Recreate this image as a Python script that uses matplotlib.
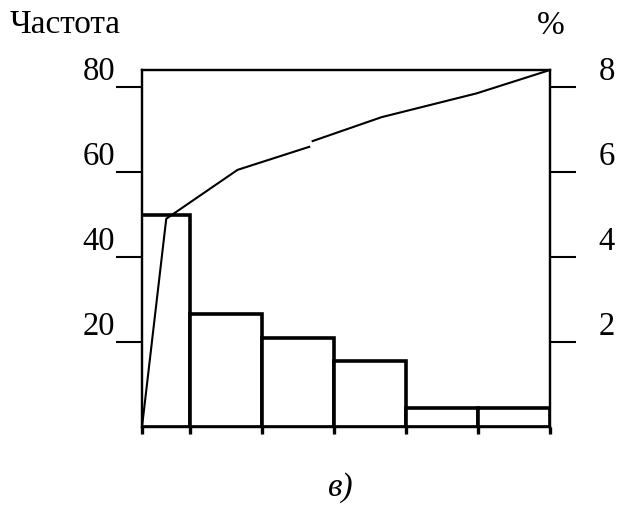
import matplotlib
matplotlib.use("Agg")
import matplotlib.pyplot as plt

# ---- data ----
categories = [1, 2, 3, 4, 5, 6]
frequency = [50, 26.5, 21, 15.5, 4.5, 4.5]
cum_x1 = [0.8333, 1.17, 2.16, 3.17]
cum_pct1 = [0.0, 4.9, 6.05, 6.6]
cum_x2 = [3.19, 4.16, 5.48, 6.5]
cum_pct2 = [6.72, 7.29, 7.85, 8.4]
left_ticks = [20, 40, 60, 80]
right_ticks = [2, 4, 6, 8]

plt.rcParams['font.family'] = ['Liberation Serif', 'DejaVu Serif']

W, H = 618, 509
fig = plt.figure(figsize=(W / 100, H / 100), dpi=100)
ax = fig.add_axes([142 / W, 1 - 427 / H, 408 / W, 357 / H])

ax.bar(categories, frequency, width=1.0, facecolor='white',
       edgecolor='black', linewidth=2.6, zorder=2)
x_left = 0.8333
ax.set_xlim(x_left, categories[-1] + 0.5)
ax.set_ylim(0, 84)

edges = [x_left] + [c + 0.5 for c in categories]
ax.set_xticks(edges)
ax.set_xticklabels([])
ax.tick_params(axis='x', direction='out', length=5, width=2.4)

ax.set_yticks(left_ticks)
ax.set_yticklabels([str(t) for t in left_ticks])
ax.tick_params(axis='y', direction='out', length=18.5, width=1.5, pad=1,
               labelsize=23.5)
for lab in ax.get_yticklabels():
    lab.set_va('bottom')

for s in ax.spines.values():
    s.set_linewidth(1.6)

ax2 = ax.twinx()
ax2.set_ylim(0, 8.4)
ax2.set_yticks(right_ticks)
ax2.set_yticklabels([str(t) for t in right_ticks])
ax2.tick_params(axis='y', direction='out', length=18.5, width=1.5, pad=16.5,
                labelsize=23.5)
for lab in ax2.get_yticklabels():
    lab.set_va('bottom')
for s in ax2.spines.values():
    s.set_linewidth(1.6)

ax2.plot(cum_x1, cum_pct1, color='black', lw=1.5, clip_on=False,
         solid_capstyle='butt')
ax2.plot(cum_x2, cum_pct2, color='black', lw=1.5, clip_on=False,
         solid_capstyle='butt')

fig.text(10 / W, 1 - 33 / H, 'Частота', fontsize=24, ha='left', va='baseline')
fig.text(551 / W, 1 - 34 / H, '%', fontsize=24, ha='center', va='baseline')
fig.text(341 / W, 1 - 496 / H, 'в)', fontsize=24, style='italic',
         ha='center', va='baseline')

fig.savefig('out.png', dpi=100)
